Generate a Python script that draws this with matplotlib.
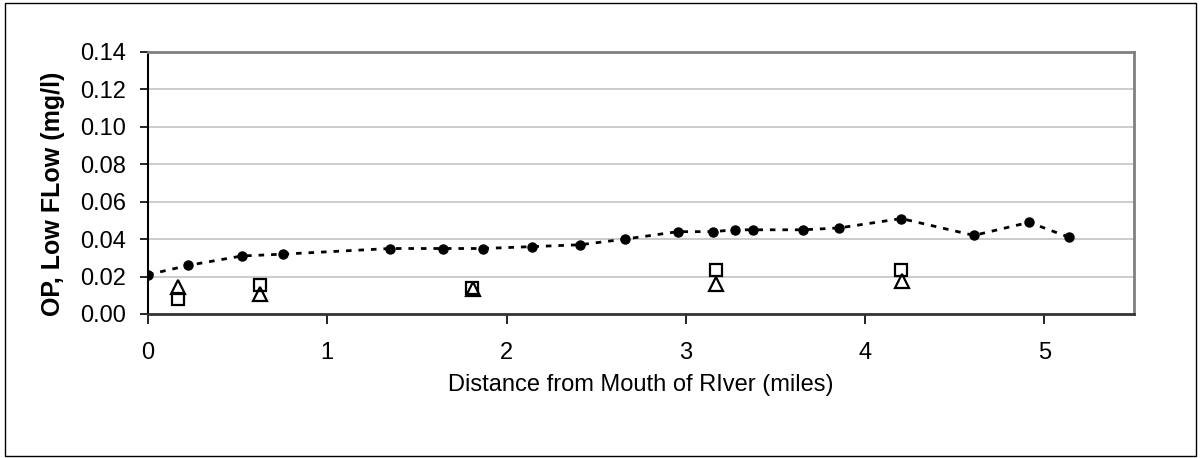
import matplotlib
matplotlib.use("Agg")
import matplotlib.pyplot as plt
from matplotlib.patches import Rectangle

plt.rcParams["font.family"] = ["Liberation Sans", "DejaVu Sans"]

# low-flow survey, orthophosphate along the river
dist_survey = [0.0, 0.225, 0.523, 0.755, 1.351, 1.645, 1.869, 2.14, 2.41, 2.66,
               2.955, 3.151, 3.274, 3.372, 3.656, 3.857, 4.202, 4.607, 4.916, 5.137]
op_survey = [0.021, 0.026, 0.031, 0.032, 0.035, 0.035, 0.035, 0.036, 0.037, 0.040,
             0.044, 0.044, 0.045, 0.045, 0.045, 0.046, 0.051, 0.042, 0.049, 0.041]

dist_sq = [0.165, 0.622, 1.81, 3.166, 4.202]
op_sq = [0.008, 0.0155, 0.0137, 0.0233, 0.0233]

dist_tri = [0.17, 0.627, 1.813, 3.17, 4.205]
op_tri = [0.0146, 0.0105, 0.0132, 0.0159, 0.0178]

x_ticks = [0, 1, 2, 3, 4, 5]
y_ticks = [0.00, 0.02, 0.04, 0.06, 0.08, 0.10, 0.12, 0.14]

W, H = 1200, 458
fig = plt.figure(figsize=(W / 100, H / 100), dpi=100)
ax = fig.add_axes([148 / W, 1 - 314 / H, (1134 - 148) / W, (314 - 52) / H])

# outer chart border
fig.patches.append(Rectangle((5 / W, 2 / H), 1191 / W, 453 / H, transform=fig.transFigure,
                             fill=False, edgecolor="black", linewidth=1.0))

for yv in y_ticks[1:-1]:
    ax.axhline(yv, color="#c8c8c8", linewidth=1.3, zorder=0)

ax.plot(dist_survey, op_survey, color="black", linewidth=2, dashes=(2, 2.5),
        marker="o", markersize=6.5, markerfacecolor="black", markeredgecolor="black",
        zorder=3)
ax.plot(dist_sq, op_sq, linestyle="none", marker="s", markersize=8.5,
        markerfacecolor="none", markeredgecolor="black", markeredgewidth=1.6, zorder=4)
ax.plot(dist_tri, op_tri, linestyle="none", marker="^", markersize=10,
        markerfacecolor="none", markeredgecolor="black", markeredgewidth=1.6, zorder=4)

ax.set_xlim(0, 5.5)
ax.set_ylim(0, 0.14)
ax.set_xticks(x_ticks)
ax.set_xticklabels([str(v) for v in x_ticks])
ax.set_yticks(y_ticks)
ax.set_yticklabels([f"{v:.2f}" for v in y_ticks])

ax.tick_params(axis="both", direction="out", length=6, width=1.2, colors="black",
               labelsize=17)
ax.tick_params(axis="y", pad=10)
ax.tick_params(axis="x", pad=13, length=7)

for side in ["top", "right"]:
    ax.spines[side].set_color("#808080")
    ax.spines[side].set_linewidth(2)
ax.spines["left"].set_color("black")
ax.spines["left"].set_linewidth(1.5)
ax.spines["bottom"].set_color("#333333")
ax.spines["bottom"].set_linewidth(2)

ax.set_xlabel("Distance from Mouth of RIver (miles)", fontsize=17, labelpad=7)
fig.text(53 / W, 1 - 194 / H, "OP, Low FLow (mg/l)", rotation=90, fontsize=18,
         fontweight="bold", ha="center", va="center")

fig.savefig("out.png", dpi=100)
